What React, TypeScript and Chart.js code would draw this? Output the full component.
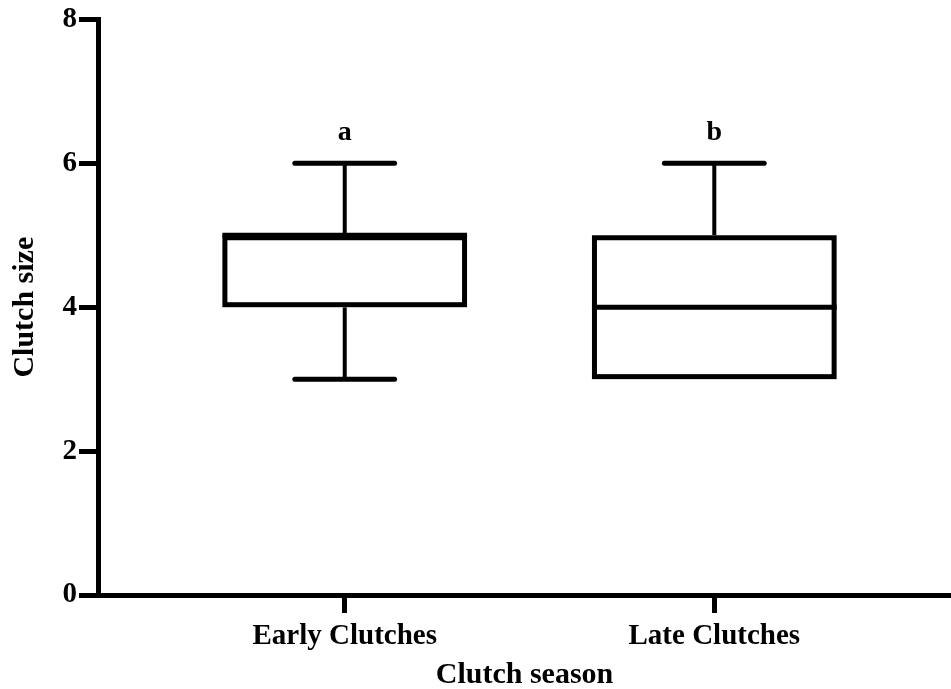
import { useEffect, useRef } from "react";
import { Chart, registerables } from "chart.js";

Chart.register(...registerables);

// ---- data ----
const categories = ["Early Clutches", "Late Clutches"];
const whiskerMin = [3, 3];
const q1 = [4, 3];
const median = [5, 4];
const q3 = [5, 5];
const whiskerMax = [6, 6];
const letters = ["a", "b"];
const yTickValues = [0, 2, 4, 6, 8];

const FONT = '"Liberation Serif", "Times New Roman", serif';
const BOX_HALF = 0.331; // in x-axis units
const CAP_HALF = 0.135; // in x-axis units

const boxPlugin = {
  id: "boxPlot",
  afterDatasetsDraw(chart: any) {
    const { ctx } = chart;
    const x = chart.scales.x;
    const y = chart.scales.y;
    ctx.save();
    ctx.strokeStyle = "#000";
    ctx.fillStyle = "#000";
    categories.forEach((_, i) => {
      const v = i + 1;
      const cx = x.getPixelForValue(v);
      const left = x.getPixelForValue(v - BOX_HALF);
      const right = x.getPixelForValue(v + BOX_HALF);
      const capL = x.getPixelForValue(v - CAP_HALF);
      const capR = x.getPixelForValue(v + CAP_HALF);
      const yTop = y.getPixelForValue(q3[i]);
      const yBot = y.getPixelForValue(q1[i]);
      const yMax = y.getPixelForValue(whiskerMax[i]);
      const yMin = y.getPixelForValue(whiskerMin[i]);
      const yMed = y.getPixelForValue(median[i]);

      // whiskers
      ctx.lineWidth = 4;
      ctx.lineCap = "butt";
      ctx.beginPath();
      ctx.moveTo(cx, yMax);
      ctx.lineTo(cx, yTop);
      ctx.stroke();
      if (whiskerMin[i] < q1[i]) {
        ctx.beginPath();
        ctx.moveTo(cx, yBot);
        ctx.lineTo(cx, yMin);
        ctx.stroke();
      }
      // caps
      ctx.lineWidth = 5;
      ctx.lineCap = "round";
      ctx.beginPath();
      ctx.moveTo(capL, yMax);
      ctx.lineTo(capR, yMax);
      ctx.stroke();
      if (whiskerMin[i] < q1[i]) {
        ctx.beginPath();
        ctx.moveTo(capL, yMin);
        ctx.lineTo(capR, yMin);
        ctx.stroke();
      }
      // box (inner stroke)
      ctx.lineCap = "butt";
      ctx.lineWidth = 5;
      ctx.fillStyle = "#fff";
      ctx.fillRect(left, yTop, right - left, yBot - yTop);
      ctx.strokeRect(left + 2.5, yTop + 2.5, right - left - 5, yBot - yTop - 5);
      // median
      ctx.beginPath();
      ctx.moveTo(left, yMed);
      ctx.lineTo(right, yMed);
      ctx.stroke();
      // significance letter
      ctx.fillStyle = "#000";
      ctx.font = `bold 28px ${FONT}`;
      ctx.textAlign = "center";
      ctx.textBaseline = "alphabetic";
      ctx.fillText(letters[i], cx, yMax - 23);
    });
    ctx.restore();
  },
};

export default function App() {
  const ref = useRef<HTMLCanvasElement | null>(null);
  useEffect(() => {
    if (!ref.current) return;
    const chart = new Chart(ref.current, {
      type: "scatter",
      data: {
        datasets: [
          {
            data: categories.map((_, i) => ({ x: i + 1, y: median[i] })),
            pointRadius: 0,
            showLine: false,
          },
        ],
      },
      options: {
        animation: false,
        responsive: true,
        maintainAspectRatio: false,
        layout: { padding: { top: 8, right: 0, left: 0, bottom: 0 } },
        plugins: {
          legend: { display: false },
          tooltip: { enabled: false },
        },
        scales: {
          x: {
            type: "linear",
            min: 0.3324,
            max: 2.6405,
            afterFit: (s: any) => {
              s.height = 94;
            },
            afterBuildTicks: (s: any) => {
              s.ticks = categories.map((_, i) => ({ value: i + 1 }));
            },
            grid: {
              drawOnChartArea: false,
              drawTicks: true,
              tickLength: 18,
              tickWidth: 5,
              tickColor: "#000",
            },
            border: { display: true, color: "#000", width: 5 },
            ticks: {
              color: "#000",
              padding: 6,
              font: { family: FONT, size: 29, weight: "bold" },
              callback: (v: any) => categories[Math.round(Number(v)) - 1] ?? "",
            },
            title: {
              display: true,
              text: "Clutch season",
              color: "#000",
              font: { family: FONT, size: 30, weight: "bold", lineHeight: 0.9 },
              padding: { top: 0, bottom: 0 },
            },
          },
          y: {
            type: "linear",
            min: 0,
            max: 8,
            afterFit: (s: any) => {
              s.width = 98;
            },
            afterBuildTicks: (s: any) => {
              s.ticks = yTickValues.map((v) => ({ value: v }));
            },
            grid: {
              drawOnChartArea: false,
              drawTicks: true,
              tickLength: 19,
              tickWidth: 5,
              tickColor: "#000",
            },
            border: { display: true, color: "#000", width: 5 },
            ticks: {
              color: "#000",
              padding: 2,
              font: { family: FONT, size: 29, weight: "bold" },
            },
            title: {
              display: true,
              text: "Clutch size",
              color: "#000",
              font: { family: FONT, size: 30, weight: "bold" },
              padding: { top: 7, bottom: 4 },
            },
          },
        },
      },
      plugins: [boxPlugin],
    });
    return () => chart.destroy();
  }, []);
  return (
    <div style={{ position: "absolute", left: 0, top: 0, width: 951, height: 689, background: "#fff" }}>
      <canvas ref={ref} />
    </div>
  );
}
